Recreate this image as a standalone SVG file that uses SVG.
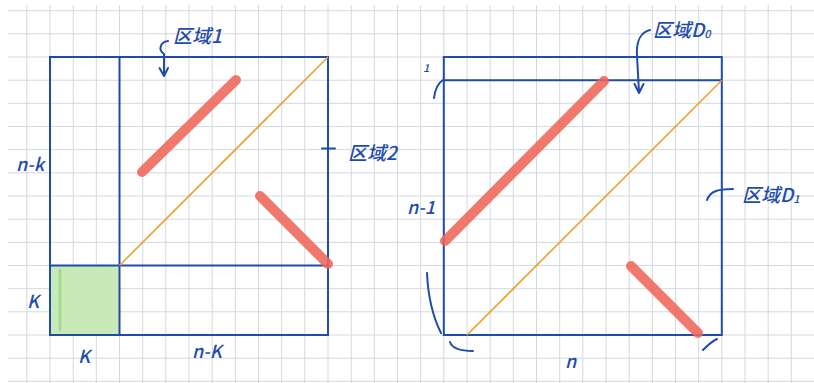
<svg xmlns="http://www.w3.org/2000/svg" width="814" height="383" viewBox="0 0 814 383">
<defs>
<style>
.grid{stroke:#d4d8df;stroke-width:1;fill:none}
.box{stroke:#1f4cac;stroke-width:2;fill:none}
.diag{stroke:#eba12a;stroke-width:1.6;fill:none}
.hl{stroke:#ef6559;stroke-opacity:0.88;stroke-width:10;stroke-linecap:round;fill:none}
.mark{stroke:#1f4cac;stroke-width:2;fill:none;stroke-linecap:round;stroke-linejoin:round}
.t{font-family:"Noto Sans CJK SC","Noto Sans",sans-serif;fill:#1f4cac;font-style:italic;font-weight:500}
.cj{font-size:19px}
.m{font-size:18px}
</style>
</defs>
<rect width="814" height="383" fill="#ffffff"/>
<path class="grid" d="M26.8 5V383M50 5V383M73.2 5V383M96.3 5V383M119.5 5V383M142.7 5V383M165.8 5V383M189 5V383M212.2 5V383M235.3 5V383M258.5 5V383M281.7 5V383M304.8 5V383M328 5V383M351.2 5V383M374.3 5V383M397.5 5V383M420.7 5V383M443.8 5V383M467 5V383M490.2 5V383M513.3 5V383M536.5 5V383M559.7 5V383M582.8 5V383M606 5V383M629.2 5V383M652.3 5V383M675.5 5V383M698.7 5V383M721.8 5V383M745 5V383M768.2 5V383M791.3 5V383
M8 10.7H814M8 33.8H814M8 57H814M8 80.2H814M8 103.3H814M8 126.5H814M8 149.7H814M8 172.8H814M8 196H814M8 219.2H814M8 242.3H814M8 265.5H814M8 288.7H814M8 311.8H814M8 335H814M8 358.2H814M8 381.3H814"/>
<g id="left-matrix">
<rect x="50" y="265.5" width="69.5" height="69.5" fill="#c9e9b9"/>
<path d="M60 270V330" stroke="#a6d98f" stroke-width="3" stroke-linecap="round" fill="none"/>
<rect class="box" x="50" y="57" width="278" height="278"/>
<path class="box" d="M119.5 57V335M50 265.5H328"/>
<path class="diag" d="M119.5 265.5L328 57"/>
<path class="hl" d="M142 172L236 80M260 196L328 264"/>
</g>
<g id="right-matrix">
<rect class="box" x="443.8" y="57" width="278" height="278"/>
<path class="box" d="M443.8 80.2H721.8"/>
<path class="diag" d="M467 335L721.8 80.2"/>
<path class="hl" d="M445 241L604 81M631 266L698 333"/>
</g>
<g id="connectors">
<path class="mark" d="M168 41C160 42 158 50 164 54L164 75M159.5 68L164 76L168 68"/>
<path class="mark" d="M322 148.5H335"/>
<path class="mark" d="M650 30C641 32 636 41 637 56L639 92M634.5 84L639 93L643.5 84"/>
<path class="mark" d="M707 200C710 192 716 189 733 189"/>
<path class="mark" d="M434 98C435 90 438 83 443 80"/>
<path class="mark" d="M427 273C428 295 432 315 441 333"/>
<path class="mark" d="M450 342C452 348 460 351 473 351"/>
<path class="mark" d="M703 350C708 345 712 341 717 339"/>
</g>
<g id="labels">
<text class="t cj" x="173" y="43">区域1</text>
<text class="t cj" x="348" y="160">区域2</text>
<text class="t cj" x="653" y="37">区域D<tspan font-size="11" dy="1">0</tspan></text>
<text class="t cj" x="742" y="202">区域D<tspan font-size="11" dy="1">1</tspan></text>
<text class="t m" x="16" y="171">n-k</text>
<text class="t m" x="27" y="308">K</text>
<text class="t m" x="78" y="363">K</text>
<text class="t m" x="192" y="358">n-K</text>
<text class="t m" x="407" y="214">n-1</text>
<text class="t m" x="565" y="368">n</text>
<text class="t" font-size="11" x="423" y="72">1</text>
</g>
</svg>
